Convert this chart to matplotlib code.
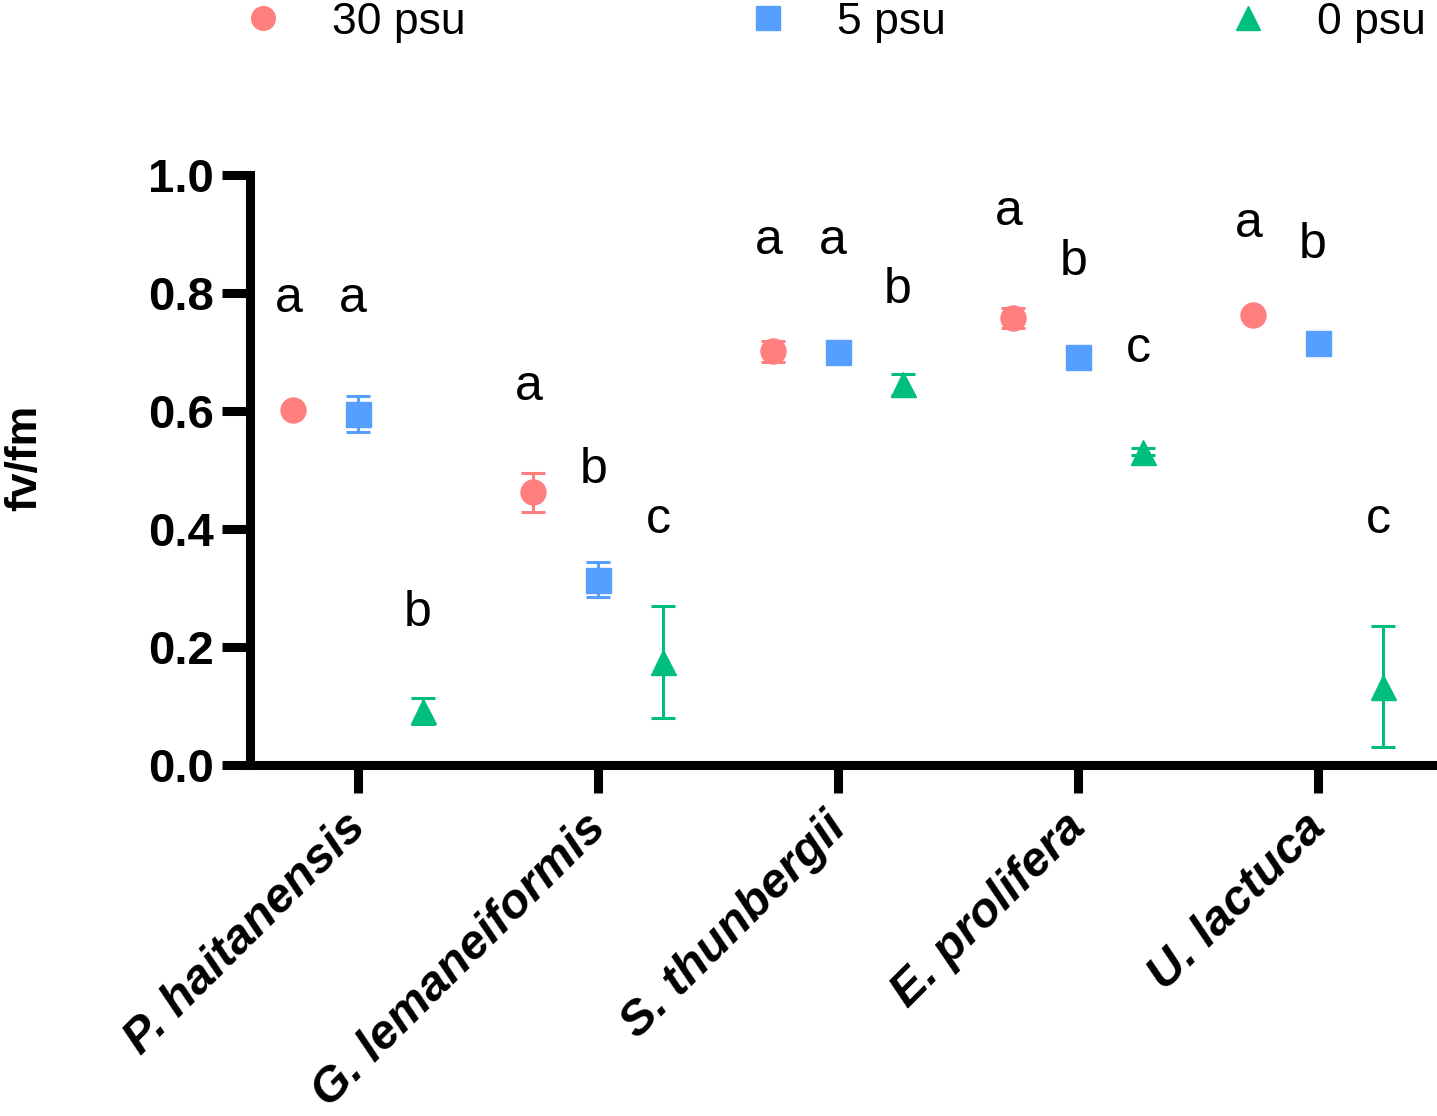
import matplotlib.pyplot as plt
from matplotlib.lines import Line2D
from matplotlib.transforms import ScaledTranslation

plt.rcParams['font.family'] = ['Liberation Sans', 'DejaVu Sans']

species = ["P. haitanensis", "G. lemaneiformis", "S. thunbergii", "E. prolifera", "U. lactuca"]
salinity = ["30 psu", "5 psu", "0 psu"]

# mean fv/fm per species, one list per salinity
fvfm_30 = [0.602, 0.462, 0.701, 0.758, 0.763]
fvfm_5 = [0.595, 0.314, 0.700, 0.691, 0.715]
fvfm_0 = [0.092, 0.175, 0.645, 0.531, 0.133]

# error bars (sd)
err_30 = [0.000, 0.033, 0.018, 0.017, 0.005]
err_5 = [0.031, 0.030, 0.008, 0.008, 0.008]
err_0 = [0.022, 0.095, 0.018, 0.006, 0.103]

# significance letters and the height of their baseline
letters_30 = ["a", "a", "a", "a", "a"]
letters_5 = ["a", "b", "a", "b", "b"]
letters_0 = ["b", "c", "b", "c", "c"]
letter_y_30 = [0.768, 0.619, 0.866, 0.915, 0.895]
letter_y_5 = [0.768, 0.478, 0.866, 0.831, 0.859]
letter_y_0 = [0.236, 0.393, 0.783, 0.683, 0.393]

colors = ['#FF7F7F', '#569FFF', '#00BE7B']
markers = ['o', 's', '^']
offsets = [-0.27, 0.0, 0.27]

fig = plt.figure(figsize=(14.37, 11.16), dpi=100)
ax = fig.add_axes([0.174, 0.3145, 0.8246, 0.5287])

means = [fvfm_30, fvfm_5, fvfm_0]
errs = [err_30, err_5, err_0]
letters = [letters_30, letters_5, letters_0]
letter_ys = [letter_y_30, letter_y_5, letter_y_0]

for k in range(3):
    xs = [i + offsets[k] for i in range(len(species))]
    ax.errorbar(xs, means[k], yerr=errs[k], fmt=markers[k], color=colors[k],
                markersize=18, elinewidth=2.2, capsize=8.6, capthick=2.2)
    for x, lab, ly in zip(xs, letters[k], letter_ys[k]):
        ax.text(x - 0.02, ly, lab, ha='center', va='baseline', fontsize=36)

ax.set_xlim(-0.45, 4.4875)
ax.set_ylim(0, 1.0)
ax.set_yticks([0.0, 0.2, 0.4, 0.6, 0.8, 1.0])
ax.set_yticklabels(["0.0", "0.2", "0.4", "0.6", "0.8", "1.0"], fontsize=34, fontweight='bold')

# species names drawn under their ticks, rotated 45 degrees
ax.set_xticks(range(len(species)))
ax.set_xticklabels([])
lab_trans = ax.get_xaxis_transform() + ScaledTranslation(-0.15, -0.40, fig.dpi_scale_trans)
for i, name in enumerate(species):
    ax.text(i, 0, name, transform=lab_trans, fontsize=35, fontweight='bold',
            fontstyle='italic', rotation=45, ha='right', va='top',
            rotation_mode='anchor', clip_on=False)

ax.set_ylabel("fv/fm", fontsize=32, fontweight='bold')
ax.yaxis.set_label_coords(-0.173, 0.52)

for s in ['top', 'right']:
    ax.spines[s].set_visible(False)
for s in ['left', 'bottom']:
    ax.spines[s].set_linewidth(6.5)
ax.tick_params(axis='both', width=6.5, length=20, pad=6)

handles = [Line2D([], [], marker=markers[k], color=colors[k], linestyle='none', markersize=17)
           for k in range(3)]
fig.legend(handles, salinity, loc='center', bbox_to_anchor=(0.58, 0.98), ncol=3,
           frameon=False, fontsize=32, handlelength=1.0, handletextpad=1.05,
           columnspacing=6.3)

fig.savefig("out.png", dpi=100)
